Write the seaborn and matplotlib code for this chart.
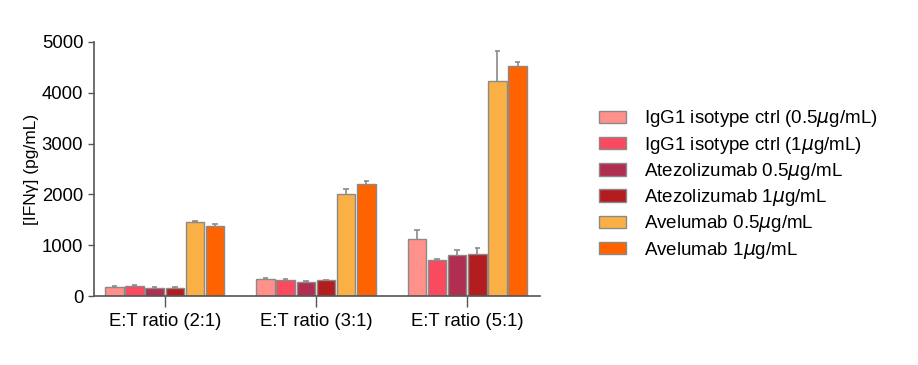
import matplotlib
matplotlib.use("Agg")
import matplotlib.pyplot as plt
import seaborn as sns
import pandas as pd

ratios = ["E:T ratio (2:1)", "E:T ratio (3:1)", "E:T ratio (5:1)"]
treatments = [
    "IgG1 isotype ctrl (0.5$\\mu$g/mL)",
    "IgG1 isotype ctrl (1$\\mu$g/mL)",
    "Atezolizumab 0.5$\\mu$g/mL",
    "Atezolizumab 1$\\mu$g/mL",
    "Avelumab 0.5$\\mu$g/mL",
    "Avelumab 1$\\mu$g/mL",
]
colors = ["#FF918A", "#F94A5F", "#B02F50", "#B41D1F", "#FBB045", "#FF6300"]

# values per treatment, across ratios (2:1, 3:1, 5:1)
igg_05 = [170, 330, 1120]
igg_1 = [200, 320, 700]
atezo_05 = [150, 280, 800]
atezo_1 = [150, 310, 830]
avel_05 = [1450, 2000, 4230]
avel_1 = [1370, 2210, 4530]

igg_05_err = [30, 20, 180]
igg_1_err = [20, 20, 20]
atezo_05_err = [30, 20, 110]
atezo_1_err = [20, 15, 120]
avel_05_err = [30, 100, 600]
avel_1_err = [40, 60, 80]

values = [igg_05, igg_1, atezo_05, atezo_1, avel_05, avel_1]
errors = [igg_05_err, igg_1_err, atezo_05_err, atezo_1_err, avel_05_err, avel_1_err]

rows = []
for t, vals, errs in zip(treatments, values, errors):
    for r, v, e in zip(ratios, vals, errs):
        rows.append({"ratio": r, "treatment": t, "value": v, "err": e})
df = pd.DataFrame(rows)

sns.set_style("white")
plt.rcParams["font.family"] = ["Liberation Sans", "DejaVu Sans"]
plt.rcParams["text.color"] = "black"
plt.rcParams["axes.labelcolor"] = "black"
plt.rcParams["xtick.color"] = "black"
plt.rcParams["ytick.color"] = "black"

fig = plt.figure(figsize=(9.18, 3.65), dpi=100)
ax = fig.add_axes([0.102, 0.189, 0.486, 0.696])

sns.barplot(data=df, x="ratio", y="value", hue="treatment",
            order=ratios, hue_order=treatments, palette=colors, saturation=1,
            errorbar=None, width=0.8, gap=0.08, edgecolor="#8a8a8a",
            linewidth=1.0, ax=ax, legend=True)

# error bars (upward only) from bar patches
bars = [p for p in ax.patches if p.get_height() > 0][:len(treatments) * len(ratios)]
i = 0
for t_idx, t in enumerate(treatments):
    for r_idx, r in enumerate(ratios):
        p = bars[i]
        i += 1
        e = df[(df.treatment == t) & (df.ratio == r)]["err"].iloc[0]
        xc = p.get_x() + p.get_width() / 2
        top = p.get_height()
        ax.vlines(xc, top, top + e, color="#8a8a8a", lw=1.2, zorder=3)
        ax.hlines(top + e, xc - 0.018, xc + 0.018, color="#8a8a8a", lw=1.2, zorder=3)

ax.set_ylim(0, 5000)
ax.set_xlim(-0.47, 2.48)
ax.set_yticks([0, 1000, 2000, 3000, 4000, 5000])
ax.set_xlabel("")
ax.set_ylabel("[IFN\u03b3] (pg/mL)", fontsize=12.5, labelpad=2)
ax.tick_params(axis="y", labelsize=13.3, length=4, width=1, color="#555555", direction="out", left=True)
ax.tick_params(axis="x", labelsize=13.3, length=8, width=1, color="#555555", direction="out", bottom=True, pad=4)
for s in ["top", "right"]:
    ax.spines[s].set_visible(False)
for s in ["left", "bottom"]:
    ax.spines[s].set_color("#555555")
    ax.spines[s].set_linewidth(1.2)

handles, labels = ax.get_legend_handles_labels()
ax.get_legend().remove()
fig.legend(handles, labels, loc="upper left", bbox_to_anchor=(0.652, 0.703),
           frameon=False, fontsize=13.5, handlelength=1.45, handleheight=0.65,
           labelspacing=0.28, handletextpad=0.95, borderpad=0, borderaxespad=0)

fig.savefig("out.png", dpi=100)
